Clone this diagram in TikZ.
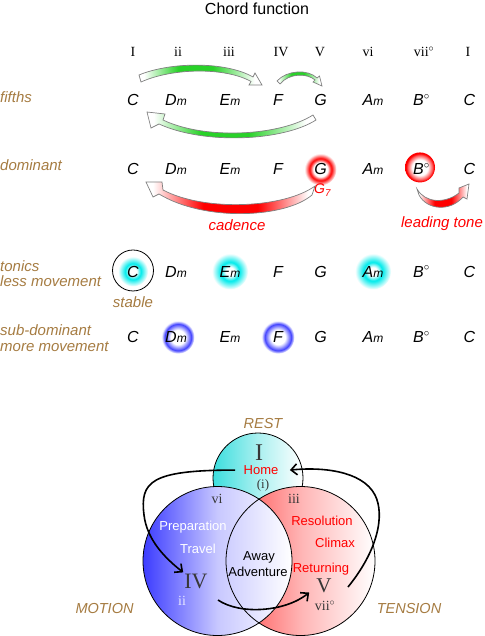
\documentclass[tikz,border=0pt]{standalone}
\usepackage{fontspec}
\setmainfont{Liberation Serif}
\setsansfont{Liberation Sans}
\usetikzlibrary{arrows.meta}
\usetikzlibrary{backgrounds}

\definecolor{labelbrown}{RGB}{166,124,66}
\definecolor{fifthgreen}{RGB}{40,210,40}
\definecolor{glowcyan}{RGB}{0,235,235}
\definecolor{ringblue}{RGB}{70,70,255}
\definecolor{arrowgray}{RGB}{128,128,128}
\definecolor{numgray}{RGB}{55,55,55}

\pgfdeclareradialshading{cyanglow}{\pgfpoint{0bp}{0bp}}{color(0bp)=(white); color(6bp)=(white); color(13bp)=(glowcyan); color(25bp)=(white); color(50bp)=(white)}
\pgfdeclareradialshading{redglow}{\pgfpoint{0bp}{0bp}}{color(0bp)=(white); color(11bp)=(white); color(17bp)=(red); color(25bp)=(white); color(50bp)=(white)}
\pgfdeclareradialshading{redring}{\pgfpoint{0bp}{0bp}}{color(0bp)=(white); color(13bp)=(white); color(21bp)=(red!70!white); color(23bp)=(red); color(25bp)=(red); color(50bp)=(red)}
\pgfdeclareradialshading{bluering}{\pgfpoint{0bp}{0bp}}{color(0bp)=(white); color(11bp)=(white); color(20bp)=(ringblue); color(25bp)=(white); color(50bp)=(white)}
\pgfdeclarehorizontalshading{greenband}{100bp}{color(0bp)=(white); color(27bp)=(white); color(41bp)=(fifthgreen); color(55bp)=(fifthgreen); color(72bp)=(white); color(100bp)=(white)}
\pgfdeclarehorizontalshading{redband}{100bp}{color(0bp)=(white); color(27bp)=(white); color(42bp)=(red); color(58bp)=(red); color(73bp)=(white); color(100bp)=(white)}

\newcommand{\minr}{{\fontsize{12}{12}\selectfont m}}

\tikzset{chord/.style={font=\fontsize{16}{18}\selectfont\sffamily\itshape, anchor=base, inner sep=1pt},
 numeral/.style={font=\fontsize{14}{16}\selectfont\rmfamily, anchor=base},
 rowlabel/.style={font=\fontsize{15}{17}\selectfont\sffamily\itshape, text=labelbrown, anchor=base west, inner sep=0pt},
 redlabel/.style={font=\fontsize{15}{17}\selectfont\sffamily\itshape, text=red, anchor=base},
 fatarrow/.style={draw=arrowgray, line width=0.7pt},
 vennlabel/.style={font=\fontsize{14.5}{16}\selectfont\sffamily\itshape, text=labelbrown, anchor=base},
 venntext/.style={font=\fontsize{13}{15}\selectfont\sffamily, anchor=base},
 vennnum/.style={font=\fontsize{14}{16}\selectfont\rmfamily, text=numgray, anchor=base, inner sep=1pt},
 journey/.style={line width=1.6pt, -{Straight Barb[length=6pt,width=11pt]}},
 }

\begin{document}
\begin{tikzpicture}[x=1pt,y=-1pt]
    \useasboundingbox (0,0) rectangle (484,636);
    \node[font=\fontsize{16}{18}\selectfont\sffamily, anchor=base] (title) at (257,15) {Chord function};

    % degrees
    \node[numeral] (r1) at (133,56.7) {I};
    \node[numeral] (r2) at (178,56.7) {ii};
    \node[numeral] (r3) at (229,56.7) {iii};
    \node[numeral] (r4) at (281,56.7) {IV};
    \node[numeral] (r5) at (320,56.7) {V};
    \node[numeral] (r6) at (368,56.7) {vi};
    \node[numeral] (r7) at (424,56.7) {vii\textsuperscript{$\circ$}};
    \node[numeral] (r8) at (468,56.7) {I};

    % fifths
    \node[rowlabel] (lfifths) at (0,102.7) {fifths};
    \node[chord] (f1) at (133,106) {C};
    \node[chord] (f2) at (176,106) {D\minr};
    \node[chord] (f3) at (230,106) {E\minr};
    \node[chord] (f4) at (278,106) {F};
    \node[chord] (f5) at (320.5,106) {G};
    \node[chord] (f6) at (373,106) {A\minr};
    \node[chord] (f7) at (421.5,106) {B\textsuperscript{$\circ$}};
    \node[chord] (f8) at (469.5,106) {C};
    \shadedraw[fatarrow, shading=greenband] (139,75) .. controls (170,62) and (225,61) .. (253,77)
        -- (255,73) -- (262,85) -- (249,85) -- (251,81.5) .. controls (225,67) and (172,68) .. (141,82) -- cycle;
    \shadedraw[fatarrow, shading=greenband] (277,81) .. controls (287,70) and (308,69) .. (317,78)
        -- (319.5,76) -- (322,86) -- (313,82) -- (315,80) .. controls (307,73) and (289,73) .. (280,84) -- cycle;
    \shadedraw[fatarrow, shading=greenband] (313,115) .. controls (280,136) and (205,140) .. (163,120)
        -- (165,114) -- (147,112) -- (151,128) -- (159,124) .. controls (205,145) and (283,141) .. (316,120) -- cycle;

    % dominant
    \node[rowlabel] (ldom) at (0,170.7) {dominant};
    \node[chord] (d1) at (133,175) {C};
    \node[chord] (d2) at (176,175) {D\minr};
    \node[chord] (d3) at (230,175) {E\minr};
    \node[chord] (d4) at (278,175) {F};
    \node[chord] (d5) at (320.5,175) {G};
    \node[chord] (d6) at (373,175) {A\minr};
    \node[chord] (d7) at (421.5,175) {B\textsuperscript{$\circ$}};
    \node[chord] (d8) at (469.5,175) {C};
    \node[redlabel, font=\fontsize{14}{16}\selectfont\sffamily\itshape, anchor=base west, inner sep=0pt] (g7) at (314,194) {G\textsubscript{7}};
    \shadedraw[fatarrow, shading=redband] (315,186) .. controls (285,208) and (205,212) .. (163,190)
        -- (162,182) -- (146,182) -- (153,197) -- (159,194) .. controls (205,222) and (285,218) .. (312,195) -- cycle;
    \shadedraw[fatarrow, shading=redband] (417,189) .. controls (425,203) and (445,204) .. (459,193)
        -- (459,188) -- (469,184) -- (467,199) -- (463,197) .. controls (450,212) and (427,210) .. (419,195) -- cycle;
    \node[redlabel] (cadence) at (237,230) {cadence};
    \node[redlabel] (leading) at (442,227) {leading tone};

    % tonics
    \node[rowlabel] (ltonic) at (0,271) {tonics};
    \node[rowlabel] (lless) at (0,286.7) {less movement};
    \node[chord] (t1) at (133,277) {C};
    \node[chord] (t2) at (176,277) {D\minr};
    \node[chord] (t3) at (230,277) {E\minr};
    \node[chord] (t4) at (278,277) {F};
    \node[chord] (t5) at (320.5,277) {G};
    \node[chord] (t6) at (373,277) {A\minr};
    \node[chord] (t7) at (421.5,277) {B\textsuperscript{$\circ$}};
    \node[chord] (t8) at (469.5,277) {C};
    \draw[line width=0.8pt] ([yshift=1pt]t1.center) circle (20.5pt);
    \node[rowlabel, anchor=base] (stable) at (133,307.7) {stable};

    % sub-dominant
    \node[rowlabel] (lsub) at (0,335) {sub-dominant};
    \node[rowlabel] (lmore) at (0,351.7) {more movement};
    \node[chord] (s1) at (133,342.7) {C};
    \node[chord] (s2) at (176,342.7) {D\minr};
    \node[chord] (s3) at (230,342.7) {E\minr};
    \node[chord] (s4) at (278,342.7) {F};
    \node[chord] (s5) at (320.5,342.7) {G};
    \node[chord] (s6) at (373,342.7) {A\minr};
    \node[chord] (s7) at (421.5,342.7) {B\textsuperscript{$\circ$}};
    \node[chord] (s8) at (469.5,342.7) {C};

    \begin{pgfonlayer}{background}
        \fill[white] (0,0) rectangle (484,636);
        \shade[shading=redglow] (d5.center) circle (16pt);
        \shade[shading=redring] ([xshift=-1.5pt,yshift=2pt]d7.center) circle (15pt);
        \shade[shading=cyanglow] (t1.center) circle (15pt);
        \shade[shading=cyanglow] (t3.center) circle (18pt);
        \shade[shading=cyanglow] (t6.center) circle (18pt);
        \shade[shading=bluering] ([xshift=2pt]s2.center) circle (16.5pt);
        \shade[shading=bluering] (s4.center) circle (16.5pt);
    \end{pgfonlayer}

    % circles of the cycle
    \shadedraw[line width=0.8pt, left color={rgb,255:red,60;green,222;blue,222}, right color=white, middle color={rgb,255:red,170;green,240;blue,240}] (258,478) circle (45pt);
    \shade[left color={rgb,255:red,255;green,70;blue,70}, right color=white, middle color={rgb,255:red,255;green,180;blue,180}] (300.5,561) circle (74.5pt);
    \shade[left color={rgb,255:red,60;green,60;blue,255}, right color=white, middle color={rgb,255:red,200;green,200;blue,255}] (217.5,561) circle (74.5pt);
    \draw[line width=0.8pt] (300.5,561) circle (74.5pt);
    \draw[line width=0.8pt] (217.5,561) circle (74.5pt);

    \node[vennlabel] (rest) at (263,428) {REST};
    \node[vennlabel] (motion) at (104.5,613) {MOTION};
    \node[vennlabel] (tension) at (409,613) {TENSION};
    \node[vennnum, font=\fontsize{24}{26}\selectfont\rmfamily, inner sep=0pt] (one) at (259,460.5) {I};
    \node[venntext, text=red] (home) at (261,474.5) {Home};
    \node[vennnum, font=\fontsize{13}{15}\selectfont\rmfamily] (onemin) at (263,488) {(i)};
    \node[vennnum] (six) at (217,503) {vi};
    \node[vennnum] (three) at (294,503) {iii};
    \node[venntext, text=white] (prep) at (193,530) {Preparation};
    \node[venntext, text=white] (travel) at (198,553) {Travel};
    \node[vennnum, font=\fontsize{22}{24}\selectfont\rmfamily] (four) at (196,588) {IV};
    \node[vennnum, text={rgb,255:red,232;green,232;blue,255}] (two) at (182,605) {ii};
    \node[venntext] (away) at (259,560) {Away};
    \node[venntext] (adventure) at (258,576) {Adventure};
    \node[venntext, text=red] (resol) at (322,525) {Resolution};
    \node[venntext, text=red] (climax) at (335,547) {Climax};
    \node[venntext, text=red] (return) at (321,572) {Returning};
    \node[vennnum, font=\fontsize{21}{23}\selectfont\rmfamily, inner sep=0pt] (five) at (324,592) {V};
    \node[vennnum, inner sep=0pt] (seven) at (325,610.5) {vii\textsuperscript{$\circ$}};

    \coordinate (motionout) at (218,600);
    \coordinate (tensionout) at (348,587);
    \draw[journey] ([xshift=-5pt]home.west) .. controls (150,470) and (140,482) .. (144,515)
        .. controls (147,540) and (165,558) .. (four.north west);
    \draw[journey] (motionout) .. controls (240,615) and (285,612) .. ([xshift=-7pt]five.south west);
    \draw[journey] (tensionout) .. controls (378,550) and (385,515) .. (375,495)
        .. controls (362,470) and (320,467) .. ([xshift=8pt]home.east);
\end{tikzpicture}
\end{document}
